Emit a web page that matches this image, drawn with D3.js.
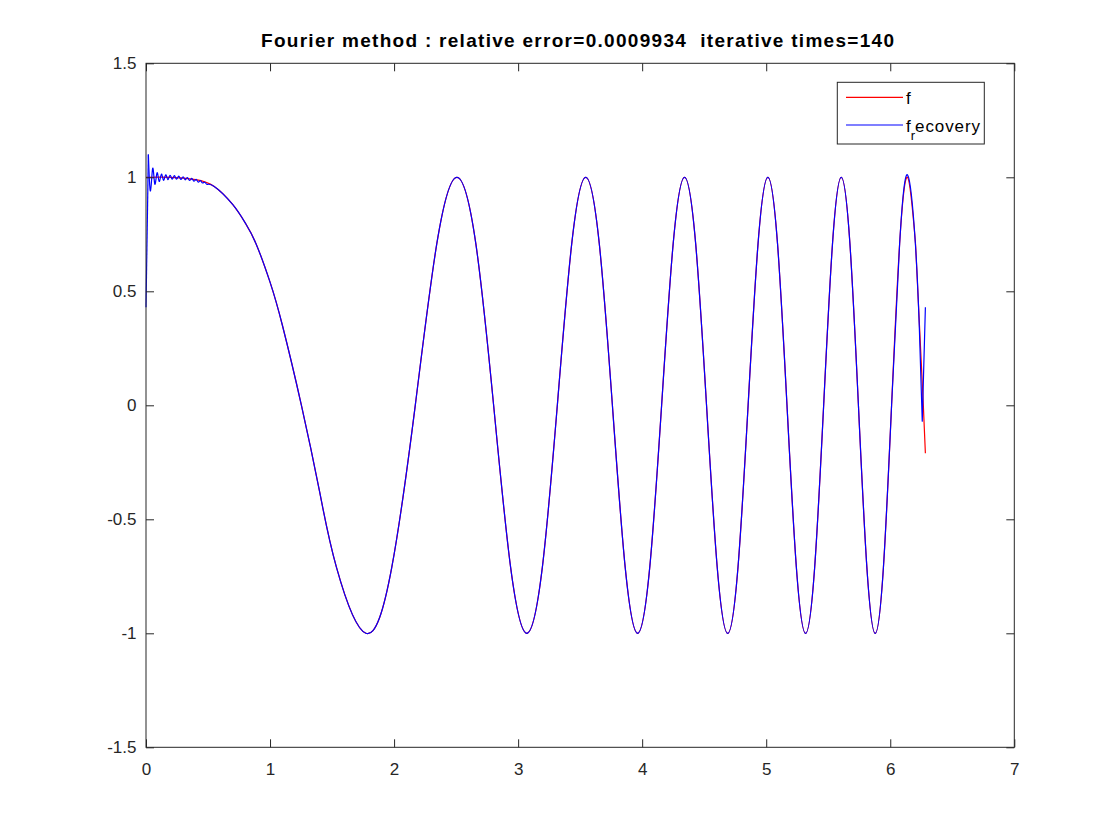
<!DOCTYPE html>
<html>
<head>
<meta charset="utf-8">
<script src="https://cdn.jsdelivr.net/npm/d3@7"></script>
<style>
  html, body { margin: 0; padding: 0; background: #ffffff; }
  svg { display: block; }
</style>
</head>
<body>
<svg id="chart" width="1120" height="840"></svg>
<script>
// ---- data ----
const titleText = "Fourier method : relative error=0.0009934  iterative times=140";

const xTicks = [0, 1, 2, 3, 4, 5, 6, 7];
const yTicks = [-1.5, -1, -0.5, 0, 0.5, 1, 1.5];
const yTickLabels = ["-1.5", "-1", "-0.5", "0", "0.5", "1", "1.5"];

// series f (red)
const fX = [0, 0.2, 0.4, 0.55, 0.7, 0.8, 0.886, 1.0, 1.1, 1.253, 1.4, 1.535,
  1.7725, 1.9817, 2.1708, 2.3447, 2.5066, 2.6587, 2.8025, 2.9393,
  3.0700, 3.1954, 3.3160, 3.4324, 3.5449, 3.6540, 3.7600, 3.8630,
  3.9633, 4.0612, 4.1568, 4.2502, 4.3416, 4.4311, 4.5189, 4.6050,
  4.6895, 4.7725, 4.8541, 4.9343, 5.0133, 5.0910, 5.1675, 5.2430,
  5.3174, 5.3907, 5.4631, 5.5345, 5.6050, 5.6747, 5.7434, 5.8114,
  5.8786, 5.9450, 6.0107, 6.0757, 6.1400, 6.2036, 6.2666, 6.2832];
const fY = [1, 1.0, 0.99, 0.96, 0.88, 0.80, 0.71, 0.54, 0.35, 0, -0.38, -0.71,
  -1, -0.71, 0, 0.71, 1, 0.71, 0, -0.71,
  -1, -0.71, 0, 0.71, 1, 0.71, 0, -0.71,
  -1, -0.71, 0, 0.71, 1, 0.71, 0, -0.71,
  -1, -0.71, 0, 0.71, 1, 0.71, 0, -0.71,
  -1, -0.71, 0, 0.71, 1, 0.71, 0, -0.71,
  -1, -0.71, 0, 0.71, 1, 0.71, 0, -0.21];

// series f_recovery (blue): Gibbs ripples at the start, coincides with f in the middle, kink at the end
const recHeadX = [0, 0.019, 0.036, 0.054, 0.071, 0.089, 0.106, 0.124, 0.141, 0.159, 0.176,
  0.194, 0.211, 0.229, 0.246, 0.264, 0.281, 0.299, 0.316, 0.334, 0.351,
  0.369, 0.386, 0.404, 0.421, 0.439, 0.456, 0.474, 0.491];
const recHeadY = [0.43, 1.10, 0.94, 1.04, 0.97, 1.02, 0.982, 1.014, 0.987, 1.011, 0.990,
  1.009, 0.992, 1.007, 0.992, 1.005, 0.991, 1.002, 0.989, 0.999, 0.986,
  0.995, 0.983, 0.991, 0.979, 0.985, 0.975, 0.979, 0.969];
const recTailX = [6.1400, 6.2036, 6.235, 6.258, 6.2832];
const recTailY = [1.01, 0.70, 0.33, -0.07, 0.43];

// ---- drawing ----
const svg = d3.select("#chart");
const W = 1120, H = 840;
svg.append("rect").attr("width", W).attr("height", H).attr("fill", "#ffffff");

const L = 146, R = 1014.3, T = 63.3, B = 747.3;
const x = d3.scaleLinear().domain([0, 7]).range([L, R]);
const y = d3.scaleLinear().domain([-1.5, 1.5]).range([B, T]);

const axisColor = "#262626";
const fontFam = "'Liberation Sans', Arial, Helvetica, sans-serif";

// build point lists
const fData = fX.map((v, i) => [v, fY[i]]);
const headData = recHeadX.map((v, i) => [v, recHeadY[i]]);
const tailData = recTailX.map((v, i) => [v, recTailY[i]]);
const midData = fData.filter(d => d[0] >= 0.55 && d[0] < 6.1);

const smooth = d3.line().x(d => x(d[0])).y(d => y(d[1])).curve(d3.curveNatural);
const straight = d3.line().x(d => x(d[0])).y(d => y(d[1])).curve(d3.curveLinear);

const plot = svg.append("g").attr("fill", "none").attr("stroke-width", 1.2)
  .attr("stroke-linejoin", "round");

// red f: smooth through the readings, coarse straight pieces at the very end
const fMain = fData.filter(d => d[0] <= 6.21);
const fEnd = fData.filter(d => d[0] >= 6.2);
plot.append("path").datum(fMain).attr("d", smooth).attr("stroke", "#ff0000");
plot.append("path").datum(fEnd).attr("d", straight).attr("stroke", "#ff0000");

// blue recovery
const recMain = headData.slice(1).concat(midData).concat(tailData.slice(0, 3));
plot.append("path").datum(headData.slice(0, 2)).attr("d", straight).attr("stroke", "#0000ff");
plot.append("path").datum(recMain).attr("d", smooth).attr("stroke", "#0000ff");
plot.append("path").datum(tailData.slice(2)).attr("d", straight).attr("stroke", "#0000ff");

// axes (ticks inward, on all four sides)
const tickLen = 8;
const gx = svg.append("g").attr("transform", `translate(0,${B})`)
  .call(d3.axisBottom(x).tickValues(xTicks).tickSizeInner(-tickLen).tickSizeOuter(0)
    .tickPadding(16).tickFormat(d => String(d)));
const gy = svg.append("g").attr("transform", `translate(${L},0)`)
  .call(d3.axisLeft(y).tickValues(yTicks).tickSizeInner(-tickLen).tickSizeOuter(0)
    .tickPadding(9.5).tickFormat((d, i) => yTickLabels[i]));
const gxt = svg.append("g").attr("transform", `translate(0,${T})`)
  .call(d3.axisTop(x).tickValues(xTicks).tickSizeInner(-tickLen).tickSizeOuter(0).tickFormat(""));
const gyr = svg.append("g").attr("transform", `translate(${R},0)`)
  .call(d3.axisRight(y).tickValues(yTicks).tickSizeInner(-tickLen).tickSizeOuter(0).tickFormat(""));

[gx, gy, gxt, gyr].forEach(g => {
  g.select(".domain").remove();
  g.selectAll(".tick line").attr("stroke", axisColor).attr("stroke-width", 1);
  g.selectAll(".tick text").attr("fill", axisColor)
    .style("font-family", fontFam).style("font-size", "17px");
});

svg.append("rect")
  .attr("x", L).attr("y", T).attr("width", R - L).attr("height", B - T)
  .attr("fill", "none").attr("stroke", axisColor).attr("stroke-width", 1);

// title
svg.append("text")
  .attr("x", 577.5).attr("y", 46.7)
  .attr("text-anchor", "middle")
  .attr("fill", "#000000")
  .attr("xml:space", "preserve")
  .style("white-space", "pre")
  .style("font-family", fontFam).style("font-size", "19px").style("font-weight", "bold")
  .attr("textLength", 633).attr("lengthAdjust", "spacing")
  .text(titleText);

// legend
const lg = svg.append("g");
lg.append("rect").attr("x", 837.3).attr("y", 82.3).attr("width", 147).attr("height", 61.7)
  .attr("fill", "#ffffff").attr("stroke", axisColor).attr("stroke-width", 1);
lg.append("line").attr("x1", 846).attr("x2", 903).attr("y1", 97.3).attr("y2", 97.3)
  .attr("stroke", "#ff0000").attr("stroke-width", 1.2);
lg.append("line").attr("x1", 846).attr("x2", 903).attr("y1", 125).attr("y2", 125)
  .attr("stroke", "#0000ff").attr("stroke-width", 1.2);
lg.append("text").attr("x", 906).attr("y", 104)
  .attr("fill", "#000000")
  .style("font-family", fontFam).style("font-size", "17px")
  .text("f");
const t2 = lg.append("text").attr("x", 906).attr("y", 131.7)
  .attr("fill", "#000000")
  .style("font-family", fontFam).style("font-size", "17px");
t2.append("tspan").text("f");
t2.append("tspan").attr("dy", 8.6).style("font-size", "13px").text("r");
t2.append("tspan").attr("dy", -8.6).attr("letter-spacing", "0.9px").text("ecovery");
</script>
</body>
</html>
